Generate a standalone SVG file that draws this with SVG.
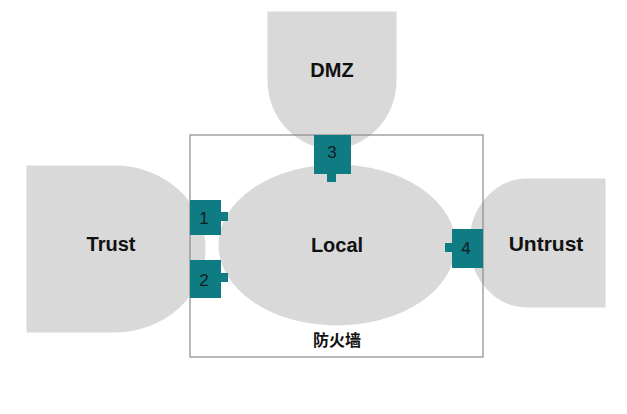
<svg xmlns="http://www.w3.org/2000/svg" width="627" height="414" viewBox="0 0 627 414">
<style>
.zone{fill:#d9d9d9;stroke:#ffffff;stroke-width:3}
.lbl{font-family:"Liberation Sans",Arial,sans-serif;font-weight:bold;font-size:20px;fill:#111;text-anchor:middle;dominant-baseline:central}
.port{fill:#0f7b82}
.num{font-family:"Liberation Sans",Arial,sans-serif;font-size:17px;fill:#102020;text-anchor:middle;dominant-baseline:central}
.fw{fill:none;stroke:#8a8a8a;stroke-width:1.2}
</style>
<rect width="627" height="414" fill="#ffffff"/>
<g id="trust">
<path class="zone" d="M25,164 H115 A92,85 0 0 1 115,334 H25 Z" stroke="none"/>
<text class="lbl" x="111" y="244">Trust</text>
</g>
<g id="dmz">
<path class="zone" d="M266,10 H398 V80 A66,70 0 0 1 266,80 Z" stroke="none"/>
<text class="lbl" x="332" y="70">DMZ</text>
</g>
<g id="untrust">
<path class="zone" d="M607,177 H527 A59,66 0 0 0 527,309 H607 Z" stroke="none"/>
<text class="lbl" x="546" y="243" style="font-size:21px">Untrust</text>
</g>
<g id="local">
<ellipse class="zone" cx="337" cy="245" rx="120" ry="82"/>
<text class="lbl" x="337" y="245">Local</text>
</g>
<g id="firewall">
<rect class="fw" x="190" y="135" width="293" height="222"/>
<text class="lbl" x="337" y="340" style="font-size:16px;font-family:'Liberation Sans','Noto Sans CJK SC',sans-serif">防火墙</text>
</g>
<g id="connectors"></g>
<g id="port1">
<rect class="port" x="190" y="200" width="31" height="35"/>
<rect class="port" x="220" y="212" width="8" height="9"/>
<text class="num" x="204" y="218">1</text>
</g>
<g id="port2">
<rect class="port" x="190" y="260" width="31" height="38"/>
<rect class="port" x="220" y="273" width="8" height="9"/>
<text class="num" x="204" y="280">2</text>
</g>
<g id="port3">
<rect class="port" x="314" y="135" width="37" height="39"/>
<rect class="port" x="327" y="173" width="9" height="9"/>
<text class="num" x="332" y="152">3</text>
</g>
<g id="port4">
<rect class="port" x="452" y="229" width="31" height="39"/>
<rect class="port" x="445" y="243" width="8" height="9"/>
<text class="num" x="466" y="248">4</text>
</g>
</svg>
